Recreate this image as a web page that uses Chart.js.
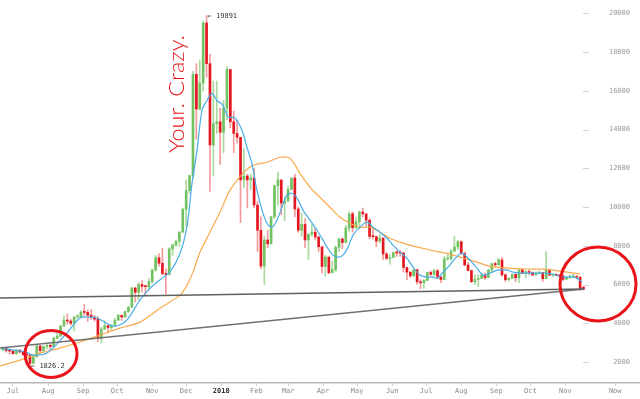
<!DOCTYPE html>
<html><head><meta charset="utf-8">
<script src="https://cdn.jsdelivr.net/npm/chart.js@4/dist/chart.umd.min.js"></script>
<style>html,body{margin:0;padding:0;background:#fff}canvas{display:block}</style>
</head><body><canvas id="c" width="640" height="399"></canvas>
<script>
// x values are days after 2017-07-01; each candle spans 3 days
const candleDays = [-9,-6,-3,0,3,6,9,12,15,18,21,24,27,30,33,36,39,42,45,48,
51,54,57,60,63,66,69,72,75,78,81,84,87,90,93,96,99,102,105,108,
111,114,117,120,123,126,129,132,135,138,141,144,147,150,153,156,159,162,165,168,
171,174,177,180,183,186,189,192,195,198,201,204,207,210,213,216,219,222,225,228,
231,234,237,240,243,246,249,252,255,258,261,264,267,270,273,276,279,282,285,288,
291,294,297,300,303,306,309,312,315,318,321,324,327,330,333,336,339,342,345,348,
351,354,357,360,363,366,369,372,375,378,381,384,387,390,393,396,399,402,405,408,
411,414,417,420,423,426,429,432,435,438,441,444,447,450,453,456,459,462,465,468,
471,474,477,480,483,486,489,492,495,498,501,504];
const opens = [2620,2710,2590,2560,2430,2610,2510,2380,2360,1930,
2270,2830,2580,2800,2870,2800,3220,3340,3850,4160,
4110,4000,4320,4340,4580,4560,4420,4320,4210,3226,
3700,3880,3780,3890,4160,4410,4320,4610,4830,5820,
5600,6000,5900,5890,6150,6740,7380,7100,6570,6520,
7840,8040,8230,8700,9890,10850,11630,16850,15060,16400,
19500,17400,13200,14300,14400,13860,15100,17100,14400,13800,
13600,11400,11600,11400,11500,10100,8800,6950,8300,8100,
9500,11100,11400,10200,10300,10900,11500,9900,8800,9100,
8300,8600,8700,8450,7950,6930,7420,6610,6770,7920,
8350,8170,8920,9650,8930,9240,9740,9650,9320,8480,
8470,8240,8400,7580,7350,7400,7640,7630,7620,6880,
6640,6450,6760,6140,6090,6210,6620,6530,6710,6390,
6260,7320,7330,7720,7940,8210,7600,7010,6720,6150,
6260,6310,6490,6360,6740,7080,7020,7270,6500,6250,
6320,6520,6350,6760,6580,6670,6620,6490,6580,6620,
6300,6740,6480,6500,6470,6450,6270,6380,6400,6410,
6380,5860];
const highs = [2780,2750,2620,2590,2650,2640,2570,2430,2380,2400,
2900,2850,2830,2900,2900,3300,3490,3900,4400,4480,
4200,4350,4450,4650,4980,4700,4700,4400,4350,3800,
4120,3900,3950,4250,4470,4420,4620,4880,5850,5860,
6100,6200,5950,6300,6800,7500,7600,7880,6800,7900,
8100,8300,8750,9950,11400,11650,17000,17400,17600,19600,
19891,17900,16500,16500,15100,15500,17250,17100,14950,14500,
13600,13000,11700,11700,12000,10300,9500,8500,8800,9500,
11100,11800,11400,10500,11100,11500,11700,10000,9700,9400,
8600,9100,8900,8500,7950,7500,7420,7200,8000,8400,
8400,9050,9750,9750,9480,9800,9950,9650,9400,8880,
8500,8600,8400,7650,7550,7700,7750,7750,7680,6900,
6650,6850,6800,6250,6250,6650,6700,6800,6800,6400,
7450,7600,7800,8500,8300,8250,7700,7150,6750,6500,
6500,6600,6600,6800,7100,7150,7350,7400,6550,6350,
6550,6550,6800,6800,6700,6750,6650,6650,6700,6630,
7700,6800,6550,6550,6500,6480,6420,6500,6550,6420,
6400,5900];
const lows = [2600,2500,2400,2400,2400,2500,2350,2300,1826.2,1920,
2260,2500,2500,2680,2650,2780,3200,3320,3850,3950,
3900,3600,4260,4300,4400,4100,4200,4100,3050,2980,
3690,3500,3650,3880,4150,4150,4300,4550,4820,5100,
5200,5600,5450,5700,6050,6700,6950,6500,5500,6500,
7500,7950,7980,8700,9000,10700,11500,13500,15000,16000,
16700,10800,11600,13800,12200,12800,14500,14100,12800,13300,
9200,11000,9950,10900,9950,7700,6800,6000,7900,8100,
9400,10100,9600,9300,10300,10900,9500,8700,8500,7900,
7300,8500,8300,7700,6600,6430,6550,6600,6650,7700,
7850,8150,8750,8700,8900,8850,9500,9000,8350,8350,
7950,8150,7300,7300,7050,7400,7450,7450,6650,6250,
6350,6400,6000,5780,5800,6200,6450,6450,6300,6100,
6250,7250,7250,7700,7800,7550,6950,6700,6100,6000,
5900,6300,6250,6350,6650,6900,7000,6400,6150,6200,
6300,6150,6100,6550,6350,6500,6450,6480,6550,6150,
6290,6450,6400,6450,6400,6200,6250,6300,6380,6300,
5700,5720];
const closes = [2710,2590,2560,2430,2610,2510,2380,2360,1930,2270,
2830,2580,2800,2870,2800,3220,3340,3850,4160,4110,
4000,4320,4340,4580,4560,4420,4320,4210,3226,3700,
3880,3780,3890,4160,4410,4320,4610,4830,5820,5600,
6000,5900,5890,6150,6740,7380,7100,6570,6520,7840,
8040,8230,8700,9890,10850,11630,16850,15060,16400,19500,
17400,13200,14300,14400,13860,15100,17100,14400,13800,13600,
11400,11600,11400,11500,10100,8800,6950,8300,8100,9500,
11100,11400,10200,10300,10900,11500,9900,8800,9100,8300,
8600,8700,8450,7950,6930,7420,6610,6770,7920,8350,
8170,8920,9650,8930,9240,9740,9650,9320,8480,8470,
8240,8400,7580,7350,7400,7640,7630,7620,6880,6640,
6450,6760,6140,6090,6210,6620,6530,6710,6390,6260,
7320,7330,7720,7940,8210,7600,7010,6720,6150,6260,
6310,6490,6360,6740,7080,7020,7270,6500,6250,6320,
6520,6350,6760,6580,6670,6620,6490,6580,6620,6300,
6740,6480,6500,6470,6450,6270,6380,6400,6410,6380,
5760,5760];

// short moving average (blue)
const blueDays = [-10,10.6,17.7,30,47.7,59.2,68,74.2,85.7,91.9,100.7,112.2,121,130,138.7,147.5,153.7,158.1,162.5,167,171.4,175.8,180.2,185.5,190,196,202.3,206.7,211,215.5,220,224.4,228.8,233.2,237.6,242,246.5,251,256.2,262.4,268.6,273.9,277.4,282.7,287,291.5,296,300.4,306.5,312.7,318,324.2,330.4,335.7,341.9,348,353.4,359.5,365.7,371,375.4,379.9,386,391.4,396.6,403.7,409.9,415.2,421.4,428.4,436.4,441.7,447.9,456.7,465.5,471.7,478.8,485.9,493.8,498.2,502.7];
const blueMA = [2700,2520,2360,2460,3500,4270,4320,4270,3910,3860,4170,5200,5800,6250,6650,7600,9000,11200,12900,15000,15500,15870,15500,15250,14650,14600,13960,13080,12260,10870,9840,9165,8960,9320,9990,10610,10710,10450,9840,9320,8800,8290,7930,7520,7410,7520,7930,8550,8960,9220,8960,8700,8390,8030,7670,7360,6900,6490,6380,6380,6330,6640,7000,7400,7620,7260,6850,6490,6590,6740,6740,6640,6590,6590,6590,6590,6490,6380,6380,6330,6120];
// long moving average (orange)
const orangeDays = [-11.5,6.2,23.9,41.5,59.2,76.9,94.5,112.2,129.9,147.5,153.7,159,165.2,174,182.9,191.7,203.2,212,224.4,235.9,244.7,253.5,262.4,271.2,280,288.9,297.7,306.5,315.4,324.2,333,341.9,350.7,359.5,377.2,386,394.9,409.9,421.4,436.4,454,468.2,483.2,500.9];
const orangeMA = [1800,2100,2460,2720,3030,3390,3750,4060,4780,5450,5970,6640,7670,8700,9730,10870,11740,12155,12310,12570,12520,11740,11020,10500,9990,9475,9165,8960,8960,8700,8390,8190,8030,7900,7670,7570,7410,7155,6950,6850,6800,6790,6690,6540];

// hand-drawn trend lines (day, value)
const flatLineDays = [-11.5, 504.4];
const flatLineVals = [5304, 5768];
const riseLineDays = [-11.5, 504.4];
const riseLineVals = [2723, 5768];

// axes
const monthDays = [0,31,62,92,123,153,184,215,243,274,304,335,365,396,427,457,488,532];
const monthLabels = ['Jul','Aug','Sep','Oct','Nov','Dec','2018','Feb','Mar','Apr','May','Jun','Jul','Aug','Sep','Oct','Nov','Now'];
const yTicks = [2000,4000,6000,8000,10000,12000,14000,16000,18000,20000];

// annotations
const priceNotes = [{day:171, value:19891, text:'\u2190 19891'}, {day:15, value:1826.2, text:'\u2190 1826.2'}];
const circleNotes = [{day:33.6, value:2413, rx:26, ry:23.5}, {day:516.8, value:6026, rx:38, ry:37}];
const scribble = {day:144, value:15834, text:'Your. Crazy.'};

const GREEN='#72c262', GREEN_W='#aad99e', RED='#e3171f', RED_W='#f29a9a';
const up = i => closes[i] >= opens[i];

const overlay = {
  id:'overlay',
  afterDraw(chart){
    const {ctx, scales:{x, y}} = chart;
    ctx.save();
    ctx.strokeStyle='#d4d4d4'; ctx.lineWidth=1;
    yTicks.forEach(v=>{const py=Math.round(y.getPixelForValue(v))+0.5; ctx.beginPath(); ctx.moveTo(583,py); ctx.lineTo(589,py); ctx.stroke();});
    ctx.fillStyle='#333'; ctx.font='7px "DejaVu Sans Mono"'; ctx.textAlign='left'; ctx.textBaseline='middle';
    priceNotes.forEach(n=>ctx.fillText(n.text, x.getPixelForValue(n.day)+1, y.getPixelForValue(n.value)+1));
    ctx.strokeStyle='#e8141a'; ctx.lineWidth=3;
    circleNotes.forEach(c=>{ctx.beginPath(); ctx.ellipse(x.getPixelForValue(c.day), y.getPixelForValue(c.value), c.rx, c.ry, 0, 0, Math.PI*2); ctx.stroke();});
    ctx.translate(x.getPixelForValue(scribble.day)+8, y.getPixelForValue(scribble.value));
    ctx.rotate(-Math.PI/2);
    ctx.font='300 22px Lato'; ctx.textAlign='center'; ctx.textBaseline='alphabetic';
    const w = ctx.measureText(scribble.text).width;
    ctx.scale(118/w, 1);
    ctx.fillStyle='#e8141a';
    ctx.fillText(scribble.text, 0, 0);
    ctx.restore();
  }
};

new Chart(document.getElementById('c'), {
  type:'bar',
  data:{datasets:[
    {type:'line', data:flatLineDays.map((d,i)=>({x:d,y:flatLineVals[i]})), borderColor:'#606060', borderWidth:1.6, pointRadius:0, order:0},
    {type:'line', data:riseLineDays.map((d,i)=>({x:d,y:riseLineVals[i]})), borderColor:'#707070', borderWidth:1.6, pointRadius:0, order:0},
    {type:'line', data:blueDays.map((d,i)=>({x:d,y:blueMA[i]})), borderColor:'#4aaee6', borderWidth:1.2, pointRadius:0, tension:0.3, order:0},
    {type:'line', data:orangeDays.map((d,i)=>({x:d,y:orangeMA[i]})), borderColor:'#fba94e', borderWidth:1.2, pointRadius:0, tension:0.3, order:0},
    {data:candleDays.map((d,i)=>({x:d,y:[Math.min(opens[i],closes[i]),Math.max(opens[i],closes[i])]})), backgroundColor:c=>up(c.dataIndex)?GREEN:RED, barThickness:2, minBarLength:1, grouped:false, order:1},
    {data:candleDays.map((d,i)=>({x:d,y:[lows[i],highs[i]]})), backgroundColor:c=>up(c.dataIndex)?GREEN_W:RED_W, barThickness:1, grouped:false, order:2}
  ]},
  options:{
    responsive:false, animation:false,
    layout:{padding:0},
    plugins:{legend:{display:false}, tooltip:{enabled:false}},
    scales:{
      x:{type:'linear', min:-11.48, max:553.9, offset:false,
        afterBuildTicks:s=>{s.ticks=monthDays.map(v=>({value:v}));},
        afterFit:s=>{s.height=16;},
        grid:{display:true, drawOnChartArea:false, offset:false, tickLength:3, color:'#d0d0d0'},
        border:{display:true, color:'#b8b8b8', width:1.5},
        ticks:{autoSkip:false, maxRotation:0, padding:1, color:c=>c.index===6?'#333':'#888',
          font:c=>({family:'DejaVu Sans Mono', size:7, weight:c.index===6?'bold':'normal'}),
          callback:(v,i)=>monthLabels[i]}
      },
      y:{type:'linear', position:'right', min:916, max:20687,
        afterBuildTicks:s=>{s.ticks=yTicks.map(v=>({value:v}));},
        afterFit:s=>{s.width=0;},
        grid:{display:false}, border:{display:false},
        ticks:{mirror:true, padding:-10, color:'#999', font:{family:'DejaVu Sans Mono', size:7},
          callback:v=>String(v)}
      }
    }
  },
  plugins:[overlay]
});
</script>
</body></html>
